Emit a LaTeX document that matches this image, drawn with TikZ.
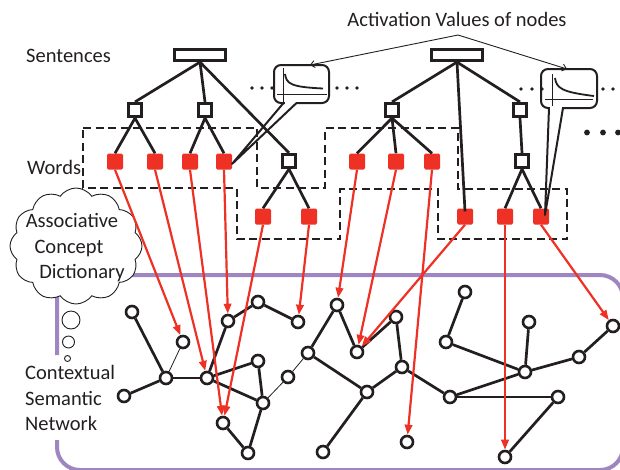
\documentclass[tikz,border=0pt]{standalone}
\usepackage{fontspec}
\setmainfont{Carlito}
\usetikzlibrary{arrows.meta,shapes.symbols,calc}
\definecolor{ink}{HTML}{231F20}
\definecolor{wred}{HTML}{EE3124}
\definecolor{framec}{HTML}{9F86C0}
\begin{document}
\begin{tikzpicture}[x=1pt,y=-1pt,
  lbl/.style={font=\fontsize{20.5}{24}\selectfont, text=ink, inner sep=0pt},
  sent/.style={draw=ink, line width=2.7pt, fill=white, minimum width=50.5pt, minimum height=11.5pt, inner sep=0pt},
  phr/.style={draw=ink, line width=2.7pt, fill=white, minimum size=13.5pt, inner sep=0pt},
  word/.style={fill=wred, rounded corners=1.5pt, minimum size=16pt, inner sep=0pt},
  tree/.style={draw=ink, line width=2.7pt},
  grp/.style={draw=ink, line width=2.7pt, dash pattern=on 8pt off 4.5pt},
  cn/.style={circle, draw=ink, line width=2.6pt, fill=white, minimum size=12pt, inner sep=0pt},
  nedge/.style={draw=ink, line width=2.7pt},
  tedge/.style={draw=ink, line width=0.8pt},
  rarrow/.style={draw=wred, line width=2.2pt, -{Triangle[length=10pt,width=7.5pt]}},
  bubble/.style={circle, draw=ink, line width=0.9pt, fill=white, inner sep=0pt},
  callbox/.style={draw=ink, line width=2pt, fill=white, rounded corners=7pt},
  wedge/.style={draw=ink, line width=2pt, line join=round},
  axisline/.style={draw=ink, line width=0.9pt},
  decay/.style={draw=ink, line width=1.8pt},
  actarrow/.style={draw=ink, line width=0.9pt, -{Straight Barb[length=4pt,width=7pt]}},
  smalldot/.style={fill=ink},
]
\useasboundingbox (0,0) rectangle (620,469);

% purple frame of the contextual semantic network
\draw[framec, line width=4pt, rounded corners=23pt]
  (57,355) -- (57,275) -- (623,275) -- (623,470) -- (57,470) -- (57,440);

% cloud and thought bubbles
\node[cloud, draw=ink, fill=white, line width=0.9pt, cloud puffs=12, cloud puff arc=110,
      aspect=1.15, minimum width=132pt, minimum height=116pt, inner sep=0pt] (dict) at (76,246) {};
\node[lbl, anchor=base] (dictA) at (72,227) {Associative};
\node[lbl, anchor=base] (dictB) at (69,253) {Concept};
\node[lbl, anchor=base] (dictC) at (82,278) {Dictionary};
\node[bubble, minimum size=18pt] (bub1) at (71,320) {};
\node[bubble, minimum size=12pt] (bub2) at (68.5,342) {};
\node[bubble, minimum size=6pt] (bub3) at (67.5,358.5) {};

% side labels
\node[lbl, anchor=base west] (lsent) at (26,62) {Sentences};
\node[lbl, anchor=base west] (lword) at (27,174) {Words};
\node[lbl, anchor=base west] (lcsn1) at (25,379) {Contextual};
\node[lbl, anchor=base west] (lcsn2) at (25,405) {Semantic};
\node[lbl, anchor=base west] (lcsn3) at (25,430) {Network};
\node[lbl, anchor=base] (act) at (457,26) {Activation Values of nodes};

% dashed word region
\draw[grp] (83,128) -- (257,128) -- (257,188) -- (325,188) -- (325,128) -- (458,128)
  -- (458,189) -- (567,189) -- (567,239) -- (438,239) -- (438,189) -- (340,189)
  -- (340,239) -- (237,239) -- (237,188) -- (83,188) -- cycle;

% sentence, phrase and word nodes
\node[sent] (s1) at (200,55) {};
\node[sent] (s2) at (457,55) {};
\node[phr] (pa) at (135,110) {};
\node[phr] (pb) at (205,110) {};
\node[phr] (pc) at (289,161) {};
\node[phr] (pd) at (392,110) {};
\node[phr] (pe) at (520,110) {};
\node[phr] (pf) at (522,161) {};
\node[word] (w1) at (115,161.5) {};
\node[word] (w2) at (155,161.5) {};
\node[word] (w3) at (190,161.5) {};
\node[word] (w4) at (224,161.5) {};
\node[word] (w5) at (357,161.5) {};
\node[word] (w6) at (396,161.5) {};
\node[word] (w7) at (432,161.5) {};
\node[word] (w8) at (263,216.5) {};
\node[word] (w9) at (309,216.5) {};
\node[word] (w10) at (465,216.5) {};
\node[word] (w11) at (505,216.5) {};
\node[word] (w12) at (541,216.5) {};

% tree edges
\draw[tree] (s1.south) -- (pa.north);
\draw[tree] (s1.south) -- (pb.north);
\draw[tree] (s1.south) -- (pc.north);
\draw[tree] (pa.south) -- (w1.north);
\draw[tree] (pa.south) -- (w2.north);
\draw[tree] (pb.south) -- (w3.north);
\draw[tree] (pb.south) -- (w4.north);
\draw[tree] (pc.south) -- (w8.north);
\draw[tree] (pc.south) -- (w9.north);
\draw[tree] (s2.south) -- (pd.north);
\draw[tree] (s2.south) -- (pe.north);
\draw[tree] (s2.south) -- ($(w10.north)+(0,3)$);
\draw[tree] (pd.south) -- (w5.north);
\draw[tree] (pd.south) -- (w6.north);
\draw[tree] (pd.south) -- (w7.north);
\draw[tree] (pe.south) -- (pf.north);
\draw[tree] (pf.south) -- (w11.north);
\draw[tree] (pf.south) -- (w12.north);

% callout 1
\coordinate (c1tip) at (232,164);
\coordinate (c1top) at (310,65);
\draw[callbox] (274,65) rectangle (329,103);
\fill[white] (284.5,101.5) rectangle (295.5,104.5);
\draw[wedge] (283.5,103) -- (c1tip) -- (296.5,103);
\draw[axisline] (283,68) -- (283,103);
\draw[axisline] (277,94) -- (327,94);
\draw[decay] (285,74) .. controls (286.5,84) and (291,87) .. (323,88.5);

% callout 2
\coordinate (c2tip) at (545,215);
\coordinate (c2top) at (567,69);
\draw[callbox] (541,69) rectangle (597,108);
\fill[white] (550,106.5) rectangle (562,109.5);
\draw[wedge] (549,108) -- (c2tip) -- (563,108);
\draw[axisline] (552,74) -- (552,106);
\draw[axisline] (545,99) -- (593,99);
\draw[decay] (555,78) .. controls (556.5,88) and (561,92) .. (594,96);

% activation arrows
\coordinate (actp) at (458,35);
\draw[actarrow] (actp) -- (c1top);
\draw[actarrow] (actp) -- (c2top);

% ellipsis dots
\foreach \x in {252,262,272,337,347,357} \fill[smalldot] (\x,88) circle (1.9pt);
\foreach \x in {521,532,542,603,613} \fill[smalldot] (\x,89) circle (1.9pt);
\foreach \x in {587,603,618} \fill[smalldot] (\x,132.5) circle (2.9pt);

% contextual semantic network nodes
\node[cn] (n1) at (132,312) {};
\node[cn] (n2) at (183,342) {};
\node[cn] (n3) at (166,378) {};
\node[cn] (n4) at (124,396) {};
\node[cn] (n5) at (207,378) {};
\node[cn] (n6) at (228,321) {};
\node[cn] (n7) at (258,302) {};
\node[cn] (n8) at (298,322) {};
\node[cn] (n9) at (258,361) {};
\node[cn] (n10) at (263,403) {};
\node[cn] (n11) at (223,423) {};
\node[cn] (n12) at (248,453) {};
\node[cn] (n13) at (288,377) {};
\node[cn] (n14) at (308,353) {};
\node[cn] (n15) at (337,305) {};
\node[cn] (n16) at (357,352) {};
\node[cn] (n17) at (396,317) {};
\node[cn] (n18) at (367,392) {};
\node[cn] (n19) at (323,452) {};
\node[cn] (n20) at (402,367) {};
\node[cn] (n21) at (407,442) {};
\node[cn] (n22) at (450,397) {};
\node[cn] (n23) at (465,292) {};
\node[cn] (n24) at (446,342) {};
\node[cn] (n25) at (525,372) {};
\node[cn] (n26) at (529,322) {};
\node[cn] (n27) at (558,397) {};
\node[cn] (n28) at (579,357) {};
\node[cn] (n29) at (613,326) {};
\node[cn] (n30) at (505,457) {};

% network edges
\foreach \a/\b in {n1/n3, n3/n4, n3/n5, n5/n6, n6/n7, n7/n8, n5/n9, n5/n10, n9/n10,
  n10/n12, n11/n12, n14/n15, n15/n16, n16/n17, n14/n18, n17/n20, n18/n20, n18/n19,
  n20/n22, n22/n25, n22/n27, n27/n30, n24/n25, n23/n24, n25/n26, n25/n28, n28/n29}
  \draw[nedge] (\a) -- (\b);
\foreach \a/\b in {n2/n3, n10/n13, n13/n14}
  \draw[tedge] (\a) -- (\b);

% red activation arrows
\foreach \a/\b in {w1/n2, w2/n5, w3/n11, w4/n6, w8/n11, w9/n8, w5/n15, w6/n16,
  w10/n16, w7/n21, w11/n30, w12/n29}
  \draw[rarrow] (\a.south) -- (\b);

\end{tikzpicture}
\end{document}
